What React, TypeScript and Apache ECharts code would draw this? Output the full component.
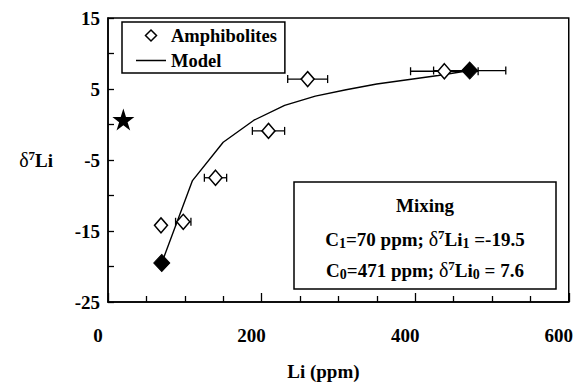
import React, { useEffect, useRef } from "react";
import * as echarts from "echarts";

// Amphibolite samples
const amphLi = [260, 438, 209, 140, 69, 98];
const amphD7 = [6.4, 7.5, -0.9, -7.5, -14.2, -13.7];
const amphErr = [26, 44, 21, 14.5, 0, 10];

// Mixing end-members (filled diamonds)
const endLi = [70, 471];
const endD7 = [-19.5, 7.6];
const endErr = [0, 47];

// Star point
const starLi = [20];
const starD7 = [0.7];

// Model curve
const modelLi = [70, 110, 150, 190, 230, 270, 310, 350, 390, 430, 471];
const modelD7 = [-19.5, -7.9, -2.5, 0.6, 2.7, 4.0, 4.9, 5.7, 6.3, 6.9, 7.6];

// Axis ticks
const xTicks = [0, 200, 400, 600];
const yTicks = [15, 5, -5, -15, -25];

const FONT = "'Liberation Serif', 'Times New Roman', serif";

const STAR_PATH =
  "path://M50,0 L61.8,35.5 L99,35.5 L68.9,57.4 L80.4,92.7 L50,70.9 L19.6,92.7 L31.1,57.4 L1,35.5 L38.2,35.5 Z";
const LINE_ICON = "path://M0,0 L60,0 L60,3 L0,3 Z";
const DIAMOND_ICON = "path://M10,0 L20,10 L10,20 L0,10 Z";

function errorBarSeries(name: string, xs: number[], ys: number[], errs: number[]) {
  const data = xs.map((x, i) => [x, ys[i], errs[i]]).filter((d) => d[2] > 0);
  return {
    name,
    type: "custom",
    z: 2,
    renderItem: (params: any, api: any) => {
      const x = api.value(0);
      const y = api.value(1);
      const e = api.value(2);
      const p1 = api.coord([x - e, y]);
      const p2 = api.coord([x + e, y]);
      const cap = 4;
      const style = { stroke: "#000", lineWidth: 1.3 };
      return {
        type: "group",
        children: [
          { type: "line", shape: { x1: p1[0], y1: p1[1], x2: p2[0], y2: p2[1] }, style },
          { type: "line", shape: { x1: p1[0], y1: p1[1] - cap, x2: p1[0], y2: p1[1] + cap }, style },
          { type: "line", shape: { x1: p2[0], y1: p2[1] - cap, x2: p2[0], y2: p2[1] + cap }, style },
        ],
      };
    },
    data,
  };
}

export default function App() {
  const ref = useRef<HTMLDivElement>(null);

  useEffect(() => {
    if (!ref.current) return;
    const chart = echarts.init(ref.current, null, { renderer: "svg" });
    const richMain = {
      b: { fontFamily: FONT, fontWeight: "bold", fontSize: 19, color: "#000", lineHeight: 22 },
      d: { fontFamily: FONT, fontWeight: "normal", fontSize: 20, color: "#000", lineHeight: 22 },
      sup: { fontFamily: FONT, fontWeight: "bold", fontSize: 13, color: "#000", verticalAlign: "top" },
      sub: { fontFamily: FONT, fontWeight: "bold", fontSize: 14, color: "#000", verticalAlign: "bottom" },
    };
    const option: any = {
      animation: false,
      backgroundColor: "#fff",
      grid: {
        left: 108,
        right: 6,
        top: 18,
        bottom: 79,
        show: true,
        borderColor: "#000",
        borderWidth: 1.5,
        backgroundColor: "transparent",
      },
      legend: {
        data: [
          {
            name: "Amphibolites",
            icon: DIAMOND_ICON,
            itemStyle: { color: "#fff", borderColor: "#000", borderWidth: 1.5 },
          },
          { name: "Model", icon: LINE_ICON, itemStyle: { color: "#000", borderWidth: 0 } },
        ],
        orient: "vertical",
        left: 122,
        top: 22,
        itemWidth: 30,
        itemHeight: 11,
        itemGap: 6,
        itemTextGap: 6,
        padding: [4, 8, 3, 14],
        borderColor: "#000",
        borderWidth: 1.5,
        selectedMode: false,
        symbolKeepAspect: true,
        textStyle: { fontFamily: FONT, fontWeight: "bold", fontSize: 18.5, color: "#000" },
      },
      xAxis: {
        type: "value",
        min: 0,
        max: 600,
        interval: 200,
        name: "Li (ppm)",
        nameLocation: "middle",
        nameGap: 60,
        nameTextStyle: { fontFamily: FONT, fontWeight: "bold", fontSize: 19, color: "#000", padding: [0, 30, 0, 0] },
        axisLine: { show: true, onZero: false, lineStyle: { color: "#000", width: 1.5 } },
        axisTick: { show: true, inside: true, length: 9, lineStyle: { color: "#000", width: 1.3 } },
        minorTick: { show: true, splitNumber: 4, length: 6, lineStyle: { color: "#000", width: 1.3 } },
        splitLine: { show: false },
        axisLabel: {
          margin: 24,
          fontFamily: FONT,
          fontWeight: "bold",
          fontSize: 19,
          color: "#000",
          padding: [0, 20, 0, 0],
          formatter: (v: number) => (xTicks.includes(v) ? String(v) : ""),
        },
      },
      yAxis: {
        type: "value",
        min: -25,
        max: 15,
        interval: 5,
        name: "{d|δ}{sup|7}{b|Li}",
        nameLocation: "middle",
        nameRotate: 0,
        nameGap: 55,
        nameTextStyle: { rich: richMain },
        axisLine: { show: true, onZero: false, lineStyle: { color: "#000", width: 1.5 } },
        axisTick: { show: true, inside: true, length: 6, lineStyle: { color: "#000", width: 1.3 } },
        splitLine: { show: false },
        axisLabel: {
          margin: 8,
          fontFamily: FONT,
          fontWeight: "bold",
          fontSize: 19,
          color: "#000",
          formatter: (v: number) => (yTicks.includes(v) ? String(v) : ""),
        },
      },
      series: [
        {
          name: "Model",
          type: "line",
          data: modelLi.map((x, i) => [x, modelD7[i]]),
          symbol: "none",
          lineStyle: { color: "#000", width: 1.4 },
          itemStyle: { color: "#000" },
          z: 1,
        },
        errorBarSeries("AmphErr", amphLi, amphD7, amphErr),
        errorBarSeries("EndErr", endLi, endD7, endErr),
        {
          name: "Amphibolites",
          type: "scatter",
          data: amphLi.map((x, i) => [x, amphD7[i]]),
          symbol: "diamond",
          symbolSize: [13, 15],
          itemStyle: { color: "#fff", borderColor: "#000", borderWidth: 1.5, opacity: 1 },
          z: 3,
        },
        {
          name: "End-members",
          type: "scatter",
          data: endLi.map((x, i) => [x, endD7[i]]),
          symbol: "diamond",
          symbolSize: [16, 17],
          itemStyle: { color: "#000", borderColor: "#000", borderWidth: 1, opacity: 1 },
          z: 4,
        },
        {
          name: "Star",
          type: "scatter",
          data: starLi.map((x, i) => [x, starD7[i]]),
          symbol: STAR_PATH,
          symbolSize: 22,
          itemStyle: { color: "#000", opacity: 1 },
          z: 4,
        },
      ],
      graphic: [
        {
          type: "rect",
          shape: { x: 294, y: 182, width: 262, height: 107 },
          style: { fill: "#fff", stroke: "#000", lineWidth: 1.5 },
          z: 10,
        },
        {
          type: "text",
          x: 425,
          y: 205,
          z: 11,
          style: {
            text: "Mixing",
            fill: "#000",
            font: `bold 19px ${FONT}`,
            textAlign: "center",
            textVerticalAlign: "middle",
          },
        },
        {
          type: "text",
          x: 425,
          y: 239,
          z: 11,
          style: {
            text: "{b|C}{sub|1}{b|=70 ppm; }{d|δ}{sup|7}{b|Li}{sub|1}{b| =-19.5}",
            rich: richMain,
            textAlign: "center",
            textVerticalAlign: "middle",
          },
        },
        {
          type: "text",
          x: 425,
          y: 270,
          z: 11,
          style: {
            text: "{b|C}{sub|0}{b|=471 ppm; }{d|δ}{sup|7}{b|Li}{sub|0}{b| = 7.6}",
            rich: richMain,
            textAlign: "center",
            textVerticalAlign: "middle",
          },
        },
      ],
    };
    chart.setOption(option);
    return () => chart.dispose();
  }, []);

  return <div ref={ref} style={{ width: 576, height: 386, position: "absolute", left: 0, top: 0 }} />;
}
